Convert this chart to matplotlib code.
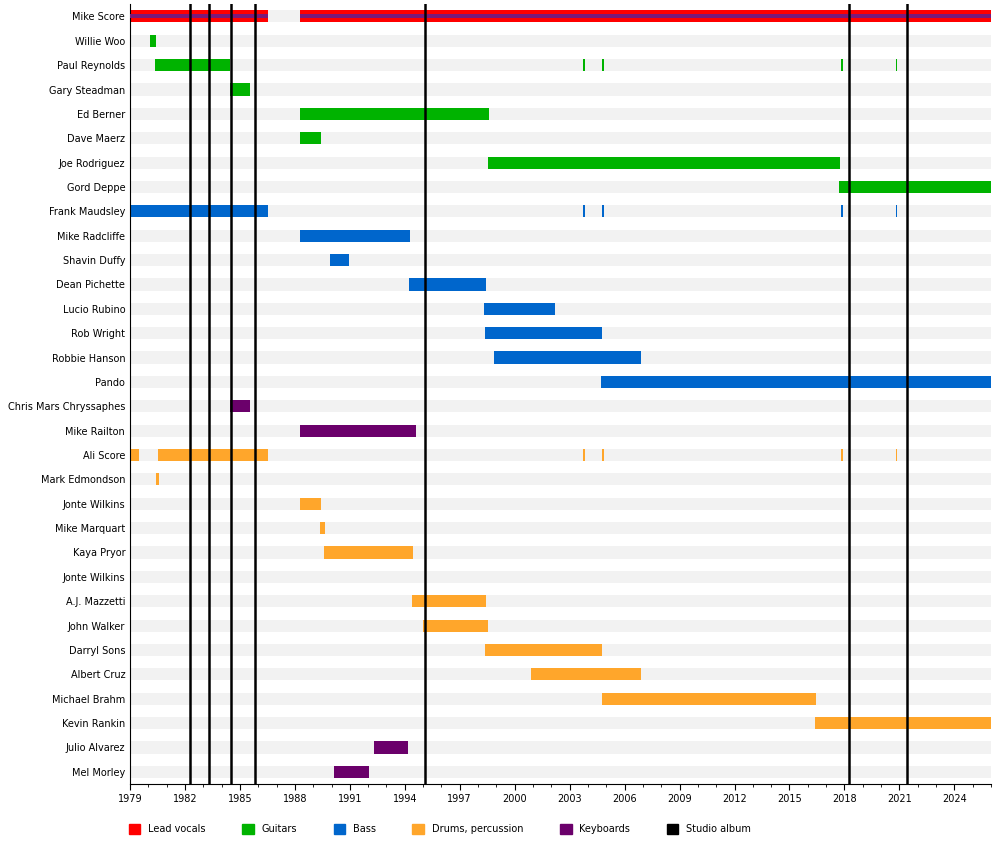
import matplotlib
matplotlib.use("Agg")
import matplotlib.pyplot as plt
from matplotlib.patches import Patch
from matplotlib.ticker import MultipleLocator

members = ["Mike Score","Willie Woo","Paul Reynolds","Gary Steadman","Ed Berner","Dave Maerz",
 "Joe Rodriguez","Gord Deppe","Frank Maudsley","Mike Radcliffe","Shavin Duffy","Dean Pichette",
 "Lucio Rubino","Rob Wright","Robbie Hanson","Pando","Chris Mars Chryssaphes","Mike Railton",
 "Ali Score","Mark Edmondson","Jonte Wilkins","Mike Marquart","Kaya Pryor","Jonte Wilkins ",
 "A.J. Mazzetti","John Walker","Darryl Sons","Albert Cruz","Michael Brahm","Kevin Rankin",
 "Julio Alvarez","Mel Morley"]
# (member index, start, end, role)
spans = [
 (0,1979.0,1986.53,"vocals"),(0,1988.27,2026.0,"vocals"),
 (1,1980.09,1980.42,"guitar"),
 (2,1980.36,1984.46,"guitar"),(2,2003.72,2003.82,"guitar"),(2,2004.75,2004.88,"guitar"),
 (2,2017.8,2017.92,"guitar"),(2,2020.8,2020.88,"guitar"),
 (3,1984.46,1985.55,"guitar"),(4,1988.27,1998.58,"guitar"),(5,1988.27,1989.42,"guitar"),
 (6,1998.53,2017.73,"guitar"),(7,2017.68,2026.0,"guitar"),
 (8,1979.0,1986.53,"bass"),(8,2003.72,2003.82,"bass"),(8,2004.75,2004.88,"bass"),
 (8,2017.8,2017.92,"bass"),(8,2020.8,2020.88,"bass"),
 (9,1988.27,1994.28,"bass"),(10,1989.91,1990.95,"bass"),(11,1994.22,1998.42,"bass"),
 (12,1998.31,2002.19,"bass"),(13,1998.37,2004.75,"bass"),(14,1998.86,2006.88,"bass"),
 (15,2004.7,2026.0,"bass"),
 (16,1984.46,1985.55,"keys"),(17,1988.27,1994.6,"keys"),
 (18,1979.0,1979.49,"drums"),(18,1980.53,1986.53,"drums"),(18,2003.72,2003.82,"drums"),
 (18,2004.75,2004.88,"drums"),(18,2017.8,2017.92,"drums"),(18,2020.8,2020.88,"drums"),
 (19,1980.42,1980.58,"drums"),(20,1988.27,1989.42,"drums"),(21,1989.37,1989.64,"drums"),
 (22,1989.58,1994.44,"drums"),(24,1994.38,1998.42,"drums"),(25,1994.98,1998.53,"drums"),
 (26,1998.37,2004.75,"drums"),(27,2000.88,2006.88,"drums"),(28,2004.75,2016.43,"drums"),
 (29,2016.37,2026.0,"drums"),(30,1992.31,1994.17,"keys"),(31,1990.13,1992.04,"keys"),
]
albums = [1982.27,1983.31,1984.51,1985.82,1995.09,2018.23,2021.39]
colors = {"vocals":"#ff0000","guitar":"#00b300","bass":"#0066cc","drums":"#ffa62b","keys":"#6b006b"}

fig = plt.figure(figsize=(10,8.43),dpi=100)
ax = fig.add_axes([0.13,0.07,0.861,0.925])
n=len(members)
for i in range(n):
    ax.barh(i,2026-1979,left=1979,height=0.5,color="#f2f2f2",zorder=0)
for i,s,e,r in spans:
    ax.barh(i,e-s,left=s,height=0.5,color=colors[r],zorder=2)
    if i==0:
        ax.barh(i,e-s,left=s,height=0.17,color="#7a1a7a",zorder=3)
for a in albums:
    ax.axvline(a,color="black",lw=1.8,zorder=4)
ax.set_ylim(n-0.5,-0.5)
ax.set_xlim(1979,2026)
ax.set_yticks(range(n))
ax.set_yticklabels([m.strip() for m in members],fontsize=7)
ax.set_xticks(range(1979,2027,3))
ax.xaxis.set_minor_locator(MultipleLocator(1))
ax.tick_params(axis='x',labelsize=7,length=4)
ax.tick_params(axis='x',which='minor',length=2)
ax.tick_params(axis='y',length=0)
for s in ["top","right"]:
    ax.spines[s].set_visible(False)
handles=[Patch(color=colors["vocals"],label="Lead vocals"),Patch(color=colors["guitar"],label="Guitars"),
 Patch(color=colors["bass"],label="Bass"),Patch(color=colors["drums"],label="Drums, percussion"),
 Patch(color=colors["keys"],label="Keyboards"),Patch(color="black",label="Studio album")]
fig.legend(handles=handles,loc="lower left",bbox_to_anchor=(0.12,0.0),ncol=6,frameon=False,
 fontsize=7,handlelength=1.2,handleheight=1.2,columnspacing=3.75)
fig.savefig("out.png")
